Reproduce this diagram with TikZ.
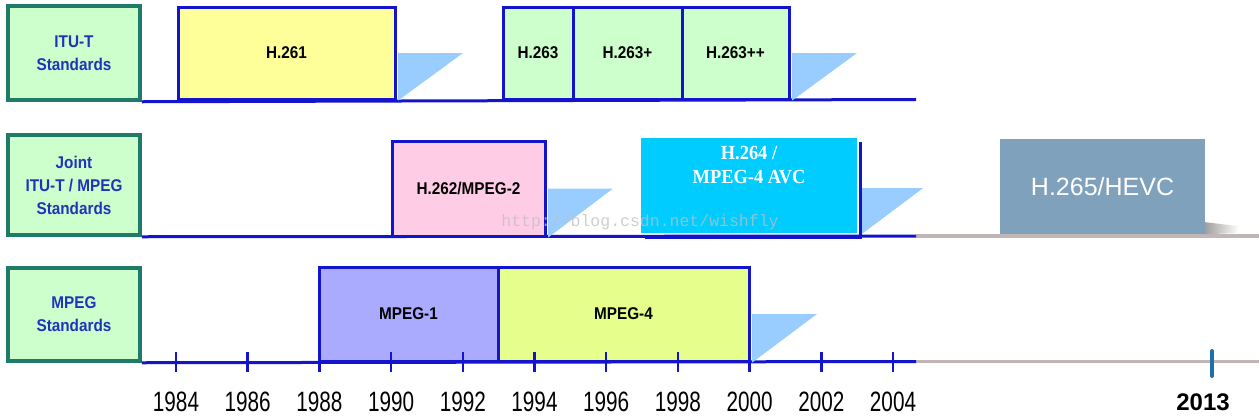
\documentclass[tikz,border=0pt]{standalone}
\usepackage{fontspec}
\setmainfont{Liberation Sans}
\newfontfamily\nsans[FakeStretch=0.9]{Liberation Sans}
\newfontfamily\yrfont[FakeStretch=0.74]{Liberation Sans}
\newfontfamily\tnr[FakeStretch=0.92]{Liberation Serif}
\newfontfamily\wmfont{Liberation Mono}
\definecolor{lblfill}{HTML}{CCFFCC}
\definecolor{lbldraw}{HTML}{1F7A68}
\definecolor{lbltext}{HTML}{2233BB}
\definecolor{bline}{HTML}{1414CC}
\definecolor{gline}{HTML}{C2B5B5}
\definecolor{yel}{HTML}{FFFF99}
\definecolor{grn}{HTML}{CCFFCC}
\definecolor{pnk}{HTML}{FFCCE6}
\definecolor{cyn}{HTML}{00CCFF}
\definecolor{slate}{HTML}{7FA1BC}
\definecolor{mp1}{HTML}{AAAAFF}
\definecolor{mp4}{HTML}{E6FF8C}
\definecolor{trifill}{HTML}{99CCFF}
\definecolor{tick13}{HTML}{1F6EAE}
\begin{document}
\begin{tikzpicture}[x=1pt,y=-1pt,
  rowlabel/.style={draw=lbldraw, line width=3.5pt, fill=lblfill, minimum width=132pt,
    minimum height=94pt, inner sep=0pt, text=lbltext, align=center,
    font=\nsans\bfseries\fontsize{17}{23}\selectfont},
  stdbox/.style={draw=bline, line width=3pt, inner sep=0pt, align=center,
    font=\nsans\bfseries\fontsize{17}{20}\selectfont},
  tri/.style={fill=trifill},
  axis/.style={draw=bline, line width=3pt},
  ext/.style={draw=gline, line width=3.5pt},
  tickmark/.style={draw=bline, line width=2.5pt},
  year/.style={font=\yrfont\fontsize{28}{28}\selectfont, inner sep=0pt}]
\useasboundingbox[fill=white] (0,0) rectangle (1259,416);

% row labels
\node[rowlabel] (lab1) at (74,53) {ITU-T\\Standards};
\node[rowlabel, minimum height=100pt] (lab2) at (74,185) {Joint\\ITU-T / MPEG\\Standards};
\node[rowlabel, minimum height=93pt] (lab3) at (74,314.5) {MPEG\\Standards};

% axis lines
\coordinate (a1e) at (916,99.5);
\coordinate (a2e) at (916,236);
\coordinate (a2f) at (1259,236);
\coordinate (a3e) at (916,361.5);
\coordinate (a3f) at (1259,361.5);
\draw[axis] (lab1.south east) -- (a1e);
\draw[ext] (a2e) -- (a2f);
\draw[axis] (lab2.south east) -- (a2e);
\draw[ext] (a3e) -- (a3f);
\draw[axis] (lab3.south east) -- (a3e);

% ITU-T row
\node[stdbox, fill=yel, minimum width=217pt, minimum height=92pt] (h261) at (286.5,53) {H.261};
\node[stdbox, fill=grn, minimum width=70pt, minimum height=92pt] (h263) at (538,53) {H.263};
\node[stdbox, fill=grn, minimum width=109pt, minimum height=92pt] (h263p) at (627.5,53) {H.263+};
\node[stdbox, fill=grn, minimum width=107pt, minimum height=92pt] (h263pp) at (735.5,53) {H.263++};
\fill[tri] ([xshift=1.5pt]h261.east) -- ++(65,0) -- ([xshift=3pt,yshift=1pt]h261.south east) -- ([xshift=1.5pt]h261.south east) -- cycle;
\fill[tri] ([xshift=1.5pt]h263pp.east) -- ++(65,0) -- ([xshift=3pt,yshift=1pt]h263pp.south east) -- ([xshift=1.5pt]h263pp.south east) -- cycle;

% Joint row
\node[stdbox, fill=pnk, minimum width=153pt, minimum height=95pt] (h262) at (468.5,188.5) {H.262/MPEG-2};
\fill[tri] ([xshift=1.5pt]h262.east) -- ++(65,0) -- ([xshift=3pt,yshift=1pt]h262.south east) -- ([xshift=1.5pt]h262.south east) -- cycle;

\node[fill=cyn, minimum width=216pt, minimum height=95pt, inner sep=0pt,
  label={[anchor=north, yshift=-5pt, text=white, align=center,
    font=\tnr\bfseries\fontsize{20}{24}\selectfont]north:{H.264 /\\MPEG-4 AVC}}]
  (h264) at (749,185.5) {};
\fill[tri] ([xshift=3pt,yshift=-2.5pt]h264.east) -- ++(63,0) -- ([xshift=5pt,yshift=-0.5pt]h264.south east) -- ([xshift=3pt,yshift=-0.5pt]h264.south east) -- cycle;
\draw[bline, line width=3pt] ([xshift=3pt,yshift=-4pt]h264.north east) |- ([xshift=4pt,yshift=-4pt]h264.south west);

\node[fill=slate, minimum width=205pt, minimum height=95pt, inner sep=0pt, text=white,
  font=\fontsize{25}{30}\selectfont] (h265) at (1102.5,186.5) {H.265/HEVC};
\shade[left color=gray!75, right color=white] (h265.south east) -- ([yshift=12pt]h265.south east) -- ([xshift=34pt,yshift=8pt]h265.south east) -- ([xshift=30pt,yshift=1pt]h265.south east) -- cycle;

% MPEG row
\node[stdbox, fill=mp1, minimum width=179pt, minimum height=94pt] (mpeg1) at (408.5,314) {MPEG-1};
\node[stdbox, fill=mp4, minimum width=251pt, minimum height=94pt] (mpeg4) at (623.5,314) {MPEG-4};
\fill[tri] ([xshift=1.5pt]mpeg4.east) -- ++(65,0) -- ([xshift=3pt,yshift=1pt]mpeg4.south east) -- ([xshift=1.5pt]mpeg4.south east) -- cycle;

% ticks and years
\foreach \i in {0,...,10}{
  \pgfmathsetmacro{\xx}{176+71.7*\i}
  \pgfmathtruncatemacro{\yr}{1984+2*\i}
  \draw[tickmark] (\xx,352) -- (\xx,372);
  \node[year] (y\yr) at (\xx,402) {\yr};
}
\draw[draw=tick13, line width=4pt, line cap=round] (1212,351) -- (1212,376);
\node[font=\bfseries\fontsize{24}{24}\selectfont, inner sep=0pt] (y2013) at (1203,402) {2013};

% watermark
\node[text=gray!50, opacity=0.75, font=\wmfont\fontsize{16.5}{18}\selectfont] (wm) at (640,222) {http://blog.csdn.net/wishfly};
\end{tikzpicture}
\end{document}
